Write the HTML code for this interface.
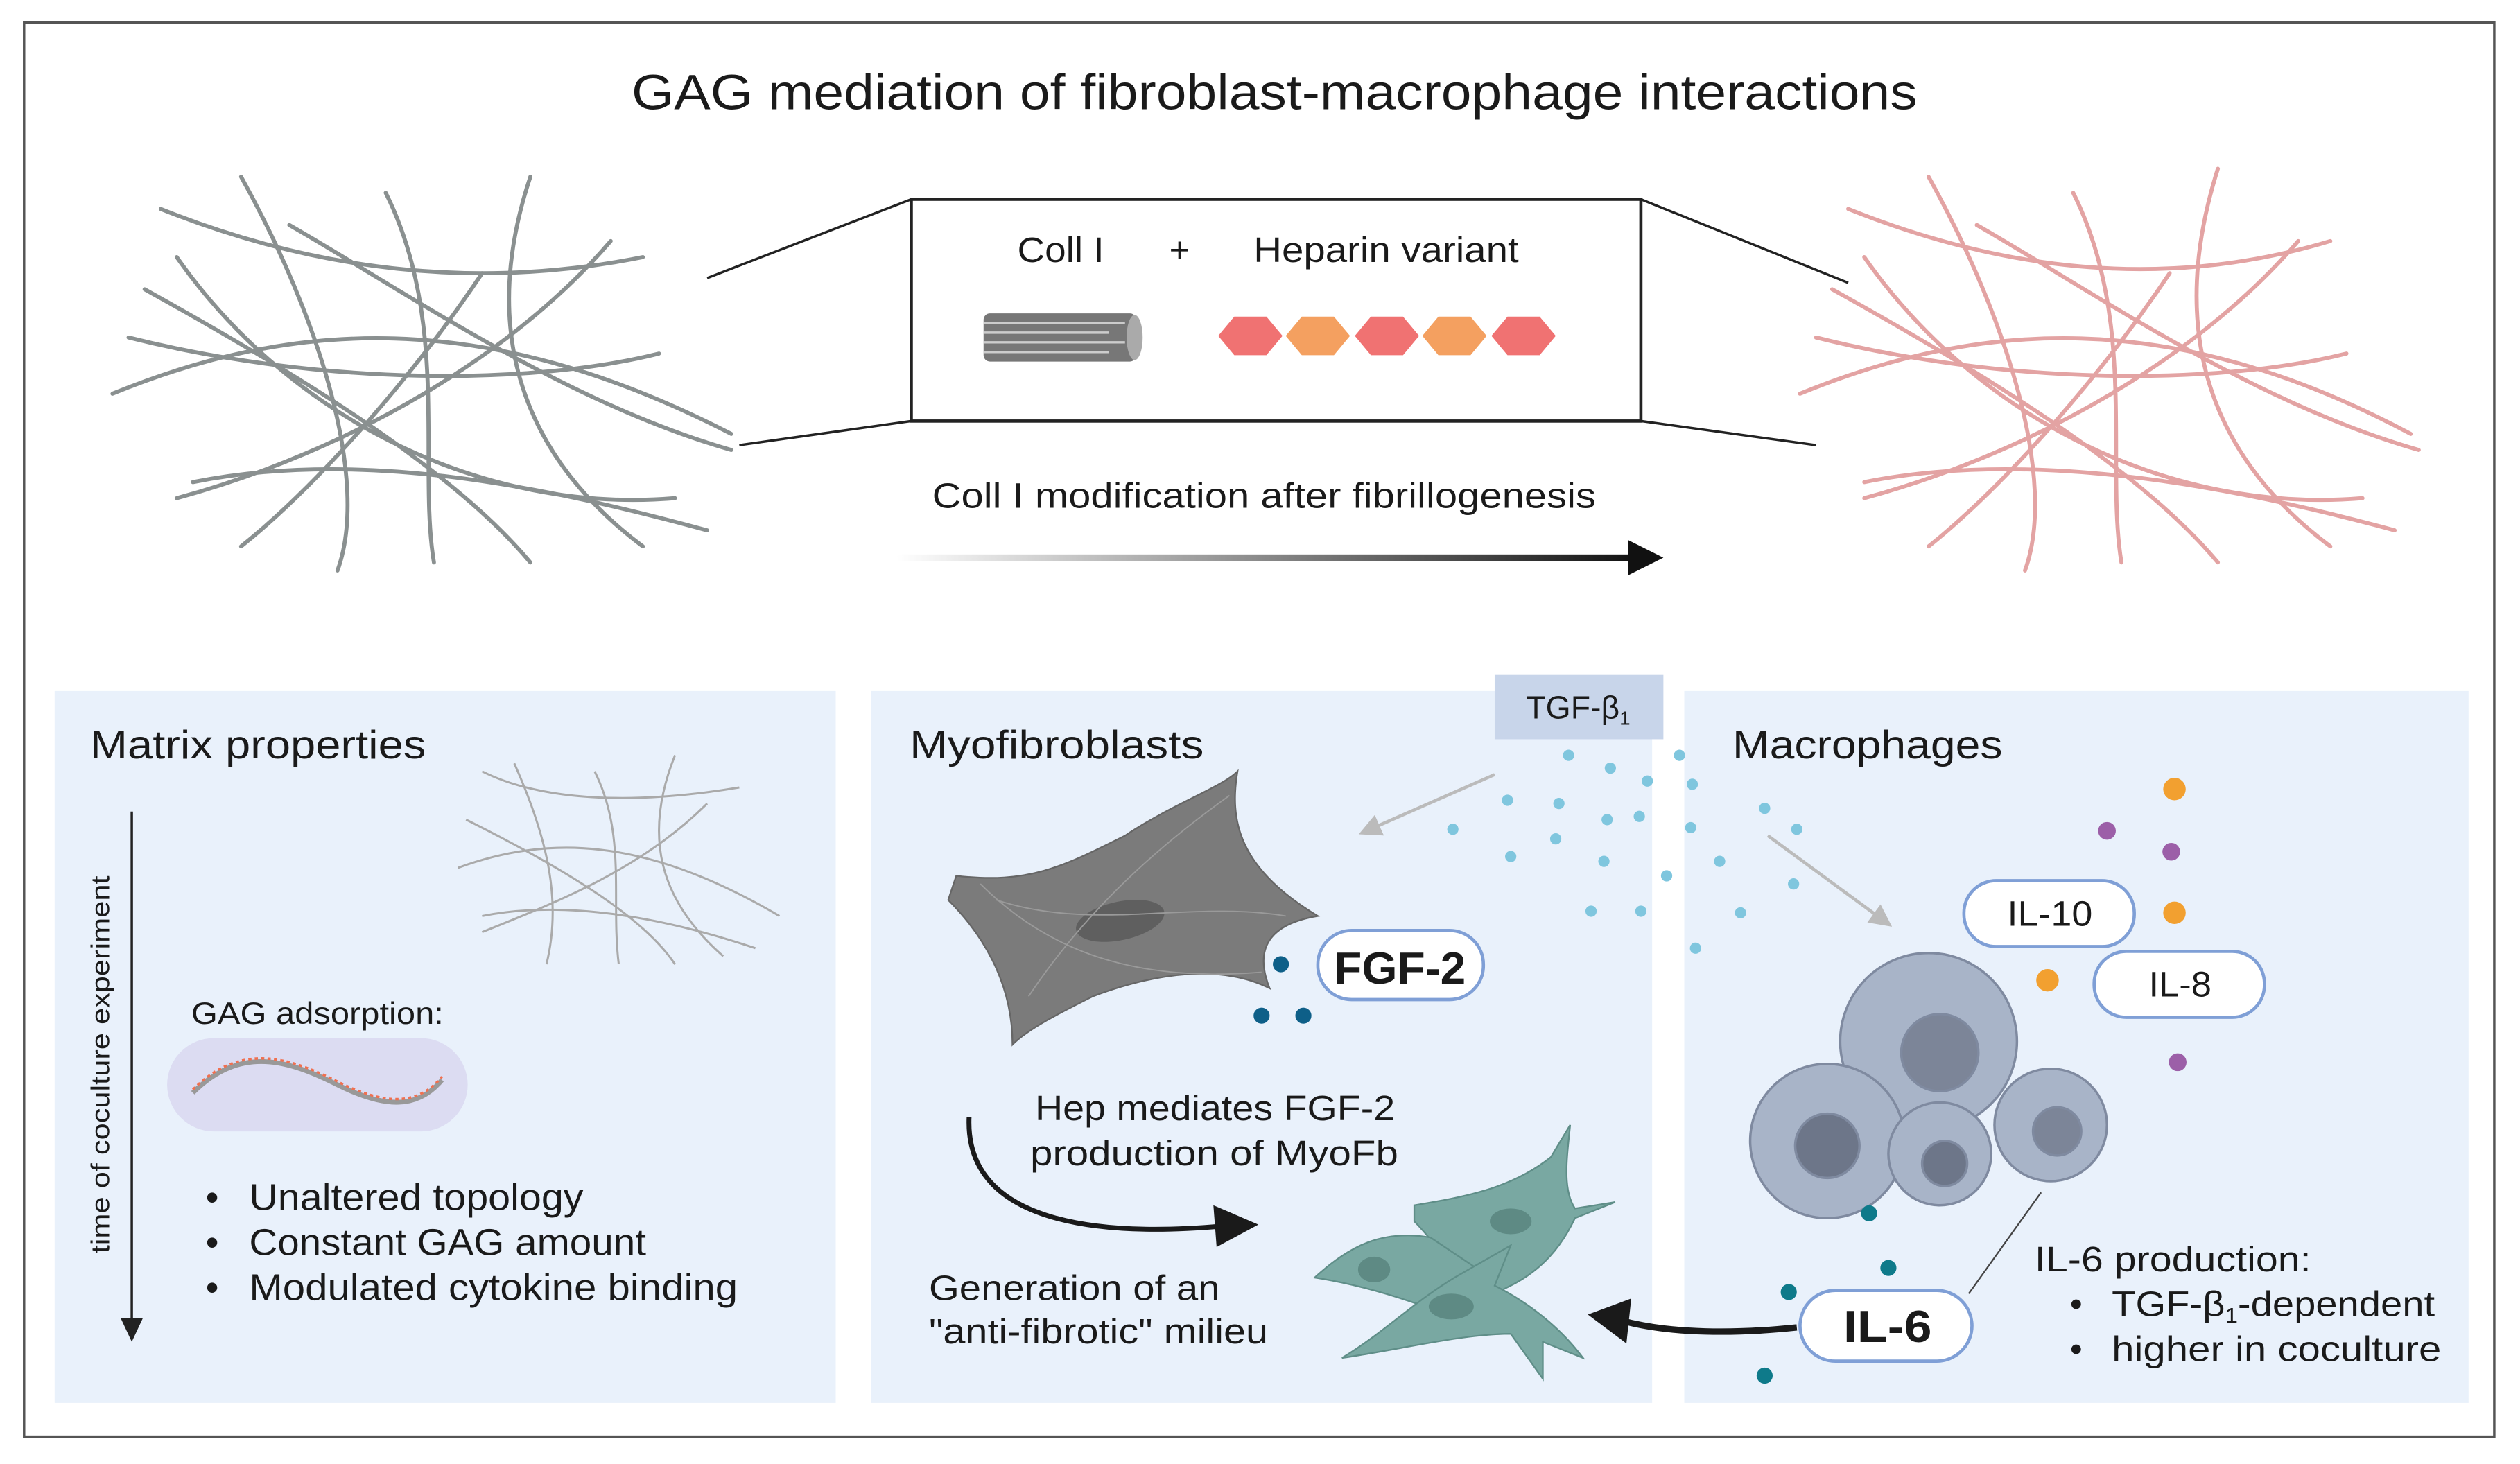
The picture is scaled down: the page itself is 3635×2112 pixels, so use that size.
<!DOCTYPE html>
<html><head><meta charset="utf-8"><style>
html,body{margin:0;padding:0;background:#fff;}
svg{display:block;}
text{font-family:"Liberation Sans",sans-serif;fill:#1a1a1a;}
</style></head><body>
<svg width="3635" height="2112" viewBox="0 0 1568 911" preserveAspectRatio="none" xmlns="http://www.w3.org/2000/svg">
<defs>
<linearGradient id="ag" x1="0" x2="1"><stop offset="0" stop-color="#fff"/><stop offset="1" stop-color="#111"/></linearGradient>
<marker id="gh" viewBox="0 0 10 10" refX="8" refY="5" markerWidth="7" markerHeight="7" orient="auto"><path d="M0,0L10,5L0,10z" fill="#bbb"/></marker>
</defs>
<rect x="15" y="14" width="1537" height="880" fill="#fff" stroke="#555" stroke-width="1.5"/>
<text x="393" y="68" font-size="31" textLength="800" lengthAdjust="spacingAndGlyphs">GAG mediation of fibroblast-macrophage interactions</text>

<!-- left mesh -->
<g fill="none" stroke="#8a9090" stroke-width="2.5" stroke-linecap="round">
<path d="M100,130 C200,170 300,180 400,160"/><path d="M70,245 C180,200 300,190 455,270"/>
<path d="M120,300 C220,280 330,300 440,330"/><path d="M150,110 C200,200 230,300 210,355"/>
<path d="M330,110 C300,200 320,280 400,340"/><path d="M90,180 C180,230 280,290 330,350"/>
<path d="M380,150 C320,220 220,280 110,310"/><path d="M240,120 C280,200 260,290 270,350"/>
<path d="M180,140 C250,180 350,250 455,280"/><path d="M410,220 C330,240 200,240 80,210"/>
<path d="M300,170 C260,230 200,300 150,340"/><path d="M110,160 C180,260 300,320 420,310"/>
</g>
<!-- right mesh -->
<g fill="none" stroke="#e3a3a3" stroke-width="2.5" stroke-linecap="round">
<path d="M1150,130 C1250,170 1350,180 1450,150"/><path d="M1120,245 C1230,200 1350,190 1500,270"/>
<path d="M1160,300 C1260,280 1380,300 1490,330"/><path d="M1200,110 C1250,200 1280,300 1260,355"/>
<path d="M1380,105 C1350,200 1370,280 1450,340"/><path d="M1140,180 C1230,230 1330,290 1380,350"/>
<path d="M1430,150 C1370,220 1270,280 1160,310"/><path d="M1290,120 C1330,200 1310,290 1320,350"/>
<path d="M1230,140 C1300,180 1400,250 1505,280"/><path d="M1460,220 C1380,240 1250,240 1130,210"/>
<path d="M1350,170 C1310,230 1250,300 1200,340"/><path d="M1160,160 C1230,260 1350,320 1470,310"/>
</g>
<!-- zoom lines and box -->
<g stroke="#222" stroke-width="1.5"><line x1="440" y1="173" x2="567" y2="124"/><line x1="460" y1="277" x2="567" y2="262"/>
<line x1="1021" y1="124" x2="1150" y2="176"/><line x1="1021" y1="262" x2="1130" y2="277"/></g>
<rect x="567" y="124" width="454" height="138" fill="#fff" stroke="#222" stroke-width="2"/>
<text x="633" y="163" font-size="22" textLength="54" lengthAdjust="spacingAndGlyphs">Coll I</text>
<text x="734" y="163" font-size="22" text-anchor="middle">+</text>
<text x="780" y="163" font-size="22" textLength="165" lengthAdjust="spacingAndGlyphs">Heparin variant</text>
<rect x="612" y="195" width="95" height="30" rx="4" fill="#777"/>
<g stroke="#ccc" stroke-width="1.5"><line x1="612" y1="201" x2="700" y2="201"/><line x1="612" y1="207" x2="690" y2="207"/><line x1="612" y1="213" x2="700" y2="213"/><line x1="612" y1="219" x2="690" y2="219"/></g>
<ellipse cx="706" cy="210" rx="5" ry="14" fill="#aaa"/>
<g>
<polygon points="758,209 768,197 788,197 798,209 788,221 768,221" fill="#f07272"/>
<polygon points="800,209 810,197 830,197 840,209 830,221 810,221" fill="#f4a060"/>
<polygon points="843,209 853,197 873,197 883,209 873,221 853,221" fill="#f07272"/>
<polygon points="885,209 895,197 915,197 925,209 915,221 895,221" fill="#f4a060"/>
<polygon points="928,209 938,197 958,197 968,209 958,221 938,221" fill="#f07272"/>
</g>
<text x="580" y="316" font-size="22" textLength="413" lengthAdjust="spacingAndGlyphs">Coll I modification after fibrillogenesis</text>
<rect x="558" y="345" width="460" height="4" fill="url(#ag)"/>
<polygon points="1013,336 1035,347 1013,358" fill="#111"/>

<!-- panels -->
<rect x="34" y="430" width="486" height="443" fill="#e9f1fb"/>
<rect x="542" y="430" width="486" height="443" fill="#e9f1fb"/>
<rect x="1048" y="430" width="488" height="443" fill="#e9f1fb"/>

<!-- panel 1 -->
<text x="56" y="472" font-size="25" textLength="209" lengthAdjust="spacingAndGlyphs">Matrix properties</text>
<line x1="82" y1="505" x2="82" y2="825" stroke="#222" stroke-width="1.5"/>
<polygon points="75,820 82,835 89,820" fill="#222"/>
<text transform="translate(68,780) rotate(-90)" font-size="16" textLength="235" lengthAdjust="spacingAndGlyphs">time of coculture experiment</text>
<g fill="none" stroke="#aaa" stroke-width="1.3">
<path d="M300,480 C340,500 400,500 460,490"/><path d="M285,540 C340,520 400,520 485,570"/>
<path d="M300,570 C350,560 410,570 470,590"/><path d="M320,475 C340,520 350,560 340,600"/>
<path d="M420,470 C400,520 410,560 450,595"/><path d="M290,510 C350,540 400,570 420,600"/>
<path d="M440,500 C400,540 350,560 300,580"/><path d="M370,480 C390,520 380,560 385,600"/>
</g>
<text x="119" y="637" font-size="19" textLength="157" lengthAdjust="spacingAndGlyphs">GAG adsorption:</text>
<rect x="104" y="646" width="187" height="58" rx="29" fill="#dcdcf2"/>
<path d="M120,680 C150,650 180,660 210,675 C240,690 260,690 275,672" fill="none" stroke="#999" stroke-width="3"/>
<path d="M120,680 C150,650 180,660 210,675 C240,690 260,690 275,672" fill="none" stroke="#f07050" stroke-width="1.5" stroke-dasharray="2,2" transform="translate(0,-2)"/>
<g font-size="23"><text x="128" y="753">•</text><text x="155" y="753" textLength="208" lengthAdjust="spacingAndGlyphs">Unaltered topology</text>
<text x="128" y="781">•</text><text x="155" y="781" textLength="247" lengthAdjust="spacingAndGlyphs">Constant GAG amount</text>
<text x="128" y="809">•</text><text x="155" y="809" textLength="304" lengthAdjust="spacingAndGlyphs">Modulated cytokine binding</text></g>

<!-- panel 2 -->
<text x="566" y="472" font-size="25" textLength="183" lengthAdjust="spacingAndGlyphs">Myofibroblasts</text>
<path d="M595,545 C640,550 660,540 700,520 C730,500 760,490 770,480 C765,510 770,540 820,570 C790,575 780,590 790,615 C760,600 720,605 680,620 C660,630 640,640 630,650 C630,610 610,580 590,560 Z" fill="#7b7b7b" stroke="#666"/>
<ellipse cx="697" cy="573" rx="28" ry="12" fill="#5f5f5f" transform="rotate(-12 697 573)"/>
<g stroke="#9a9a9a" stroke-width="0.8" fill="none"><path d="M620,560 C680,580 740,560 800,570"/><path d="M640,620 C680,560 730,520 765,495"/><path d="M610,550 C660,600 720,610 785,605"/></g>
<circle cx="797" cy="600" r="5" fill="#0e5f88"/><circle cx="785" cy="632" r="5" fill="#0e5f88"/><circle cx="811" cy="632" r="5" fill="#0e5f88"/>
<rect x="820" y="579" width="103" height="43" rx="21" fill="#fff" stroke="#7f9fd6" stroke-width="2"/>
<text x="830" y="612" font-size="28" font-weight="bold" fill="#111" textLength="82" lengthAdjust="spacingAndGlyphs">FGF-2</text>
<text x="644" y="697" font-size="22" textLength="224" lengthAdjust="spacingAndGlyphs">Hep mediates FGF-2</text>
<text x="641" y="725" font-size="22" textLength="229" lengthAdjust="spacingAndGlyphs">production of MyoFb</text>
<path d="M603,695 C600,760 680,770 760,763" fill="none" stroke="#1a1a1a" stroke-width="3"/>
<polygon points="755,750 783,762 757,776" fill="#1a1a1a"/>
<text x="578" y="809" font-size="22" textLength="181" lengthAdjust="spacingAndGlyphs">Generation of an</text>
<text x="578" y="836" font-size="22" textLength="211" lengthAdjust="spacingAndGlyphs">"anti-fibrotic" milieu</text>
<g fill="#79a8a2" stroke="#5f8e88" stroke-width="1">
<path d="M880,750 C910,745 940,740 965,720 L977,700 C975,720 972,740 980,752 L1005,748 L980,758 C972,775 960,790 940,800 L920,810 C905,790 890,770 880,760 Z"/>
<path d="M818,795 C840,775 860,765 890,770 L920,790 L905,820 C880,810 850,800 818,795 Z"/>
<path d="M835,845 C860,830 880,810 905,795 L940,775 L930,800 C950,810 970,825 985,845 L960,835 L960,858 L940,830 C910,830 870,840 835,845 Z"/>
</g>
<g fill="#5e8a84"><ellipse cx="940" cy="760" rx="13" ry="8"/><ellipse cx="855" cy="790" rx="10" ry="8"/><ellipse cx="903" cy="813" rx="14" ry="8"/></g>

<!-- TGF -->
<rect x="930" y="420" width="105" height="40" fill="#c8d5ea"/>
<text x="982" y="447" font-size="20" text-anchor="middle">TGF-β<tspan font-size="12" dy="4">1</tspan></text>
<g fill="#7fc6de">
<circle cx="976" cy="470" r="3.5"/><circle cx="1002" cy="478" r="3.5"/><circle cx="1045" cy="470" r="3.5"/><circle cx="1025" cy="486" r="3.5"/>
<circle cx="938" cy="498" r="3.5"/><circle cx="970" cy="500" r="3.5"/><circle cx="1000" cy="510" r="3.5"/><circle cx="1020" cy="508" r="3.5"/><circle cx="1053" cy="488" r="3.5"/>
<circle cx="904" cy="516" r="3.5"/><circle cx="968" cy="522" r="3.5"/><circle cx="1052" cy="515" r="3.5"/><circle cx="1098" cy="503" r="3.5"/><circle cx="1118" cy="516" r="3.5"/>
<circle cx="940" cy="533" r="3.5"/><circle cx="998" cy="536" r="3.5"/><circle cx="1070" cy="536" r="3.5"/><circle cx="1037" cy="545" r="3.5"/>
<circle cx="1116" cy="550" r="3.5"/><circle cx="990" cy="567" r="3.5"/><circle cx="1021" cy="567" r="3.5"/><circle cx="1083" cy="568" r="3.5"/><circle cx="1055" cy="590" r="3.5"/>
</g>
<line x1="930" y1="482" x2="848" y2="518" stroke="#bbb" stroke-width="2" marker-end="url(#gh)"/>
<line x1="1100" y1="520" x2="1175" y2="575" stroke="#bbb" stroke-width="2" marker-end="url(#gh)"/>

<!-- panel 3 -->
<text x="1078" y="472" font-size="25" textLength="168" lengthAdjust="spacingAndGlyphs">Macrophages</text>
<circle cx="1353" cy="491" r="7" fill="#f2a030"/><circle cx="1311" cy="517" r="5.5" fill="#9c5fa8"/><circle cx="1351" cy="530" r="5.5" fill="#9c5fa8"/>
<circle cx="1353" cy="568" r="7" fill="#f2a030"/><circle cx="1274" cy="610" r="7" fill="#f2a030"/><circle cx="1355" cy="661" r="5.5" fill="#9c5fa8"/>
<rect x="1222" y="548" width="106" height="41" rx="20" fill="#fff" stroke="#7f9fd6" stroke-width="2"/>
<text x="1249" y="576" font-size="22" textLength="53" lengthAdjust="spacingAndGlyphs">IL-10</text>
<rect x="1303" y="592" width="106" height="41" rx="20" fill="#fff" stroke="#7f9fd6" stroke-width="2"/>
<text x="1337" y="620" font-size="22" textLength="39" lengthAdjust="spacingAndGlyphs">IL-8</text>
<g stroke="#7f8aa0" stroke-width="1.5">
<circle cx="1200" cy="648" r="55" fill="#a8b4c8"/><circle cx="1207" cy="655" r="24" fill="#7c8598"/>
<circle cx="1137" cy="710" r="48" fill="#a8b4c8"/><circle cx="1137" cy="713" r="20" fill="#6d7689"/>
<circle cx="1207" cy="718" r="32" fill="#a8b4c8"/><circle cx="1210" cy="724" r="14" fill="#6d7689"/>
<circle cx="1276" cy="700" r="35" fill="#a8b4c8"/><circle cx="1280" cy="704" r="15" fill="#7c8598"/>
</g>
<g fill="#0e7a8a"><circle cx="1163" cy="755" r="5"/><circle cx="1175" cy="789" r="5"/><circle cx="1113" cy="804" r="5"/><circle cx="1098" cy="856" r="5"/></g>
<line x1="1270" y1="742" x2="1225" y2="805" stroke="#444" stroke-width="1"/>
<rect x="1120" y="803" width="107" height="44" rx="22" fill="#fff" stroke="#7f9fd6" stroke-width="2"/>
<text x="1147" y="835" font-size="28" font-weight="bold" fill="#111" textLength="55" lengthAdjust="spacingAndGlyphs">IL-6</text>
<path d="M1118,826 C1080,830 1040,830 1010,822" fill="none" stroke="#1a1a1a" stroke-width="4"/>
<polygon points="1015,808 988,818 1012,836" fill="#1a1a1a"/>
<text x="1266" y="791" font-size="22" textLength="172" lengthAdjust="spacingAndGlyphs">IL-6 production:</text>
<g font-size="22"><text x="1288" y="819">•</text><text x="1314" y="819" textLength="201" lengthAdjust="spacingAndGlyphs">TGF-β<tspan font-size="13" dy="4">1</tspan><tspan dy="-4">-dependent</tspan></text>
<text x="1288" y="847">•</text><text x="1314" y="847" textLength="205" lengthAdjust="spacingAndGlyphs">higher in coculture</text></g>
</svg>
</body></html>
